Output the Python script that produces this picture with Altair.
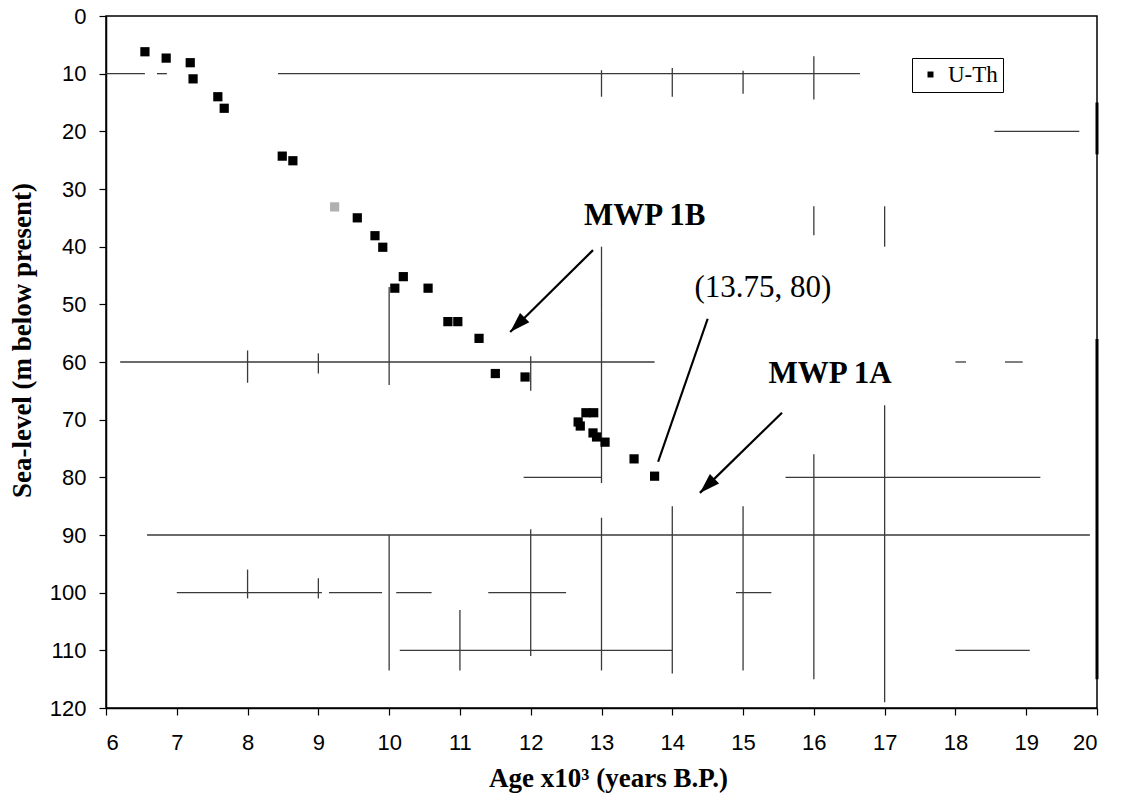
import math
import altair as alt
import pandas as pd

# ---- data ----
age = [6.55, 6.85, 7.19, 7.23, 7.58, 7.67, 8.49, 8.64, 9.55, 9.80, 9.91,
       10.08, 10.20, 10.55, 10.83, 10.97, 11.27, 11.50, 11.92,
       12.67, 12.70, 12.78, 12.89, 12.88, 12.93, 13.05, 13.46, 13.75]
depth = [6.2, 7.3, 8.1, 10.9, 14.0, 16.0, 24.3, 25.1, 35.0, 38.1, 40.1,
         47.2, 45.2, 47.2, 53.0, 53.0, 55.9, 62.0, 62.6,
         70.4, 71.1, 68.8, 68.8, 72.3, 73.0, 73.9, 76.8, 79.8]
faint_age = [9.23]
faint_depth = [33.1]
series_name = "U-Th"

x_ticks = list(range(6, 21))
y_ticks = list(range(0, 121, 10))

# scanned grid fragments (horizontal)
h_y = [10, 10, 10, 20, 60, 60, 60, 80, 80, 90, 100, 100, 100, 100, 100, 110, 110]
h_x1 = [6.0, 6.72, 8.43, 18.55, 6.2, 18.0, 18.7, 11.9, 15.6, 6.58, 7.0, 9.15, 10.1, 11.4, 14.9, 10.15, 18.0]
h_x2 = [6.55, 6.86, 16.65, 19.75, 13.75, 18.15, 18.95, 13.0, 19.2, 19.9, 9.05, 9.9, 10.6, 12.5, 15.4, 14.0, 19.05]
# scanned grid fragments (vertical)
v_x = [8, 8, 9, 9, 10, 10, 11, 12, 12, 13, 13, 13, 13, 14, 14, 15, 15, 16, 16, 16, 17, 17]
v_y1 = [58, 96, 58.5, 97.5, 47, 90, 103, 59, 89, 9.4, 40, 51, 87, 9, 85, 9.5, 85, 7, 33, 76, 33, 67.5]
v_y2 = [63.6, 101, 62, 101, 64, 113.5, 113.5, 65, 111, 14, 51, 81, 113.5, 14, 114, 13.5, 113.5, 14.5, 38, 115, 40, 119]
# heavier fragments on the right frame
thick_x = [20, 20]
thick_y1 = [15, 56]
thick_y2 = [24, 115]

# annotations
bold_text = ["MWP 1B", "MWP 1A"]
bold_x = [13.61, 16.23]
bold_y = [34.7, 62.1]
plain_text = ["(13.75, 80)"]
plain_x = [15.28]
plain_y = [47.2]

arrow_x1 = [12.88, 14.50, 15.55]
arrow_y1 = [40.6, 52.5, 68.8]
arrow_x2 = [11.71, 13.80, 14.39]
arrow_y2 = [54.8, 77.3, 82.7]
arrow_head = [True, False, True]

# ---- layout ----
W, H = 991, 692
XMIN, XMAX, YMIN, YMAX = 6, 20, 0, 120
px_x = W / (XMAX - XMIN)
px_y = H / (YMAX - YMIN)

pts = pd.DataFrame({"age": age, "depth": depth, "series": [series_name] * len(age)})
faint = pd.DataFrame({"age": faint_age, "depth": faint_depth})
hseg = pd.DataFrame({"y": h_y, "x1": h_x1, "x2": h_x2})
vseg = pd.DataFrame({"x": v_x, "y1": v_y1, "y2": v_y2})
tseg = pd.DataFrame({"x": thick_x, "y1": thick_y1, "y2": thick_y2})
btxt = pd.DataFrame({"t": bold_text, "x": bold_x, "y": bold_y})
ptxt = pd.DataFrame({"t": plain_text, "x": plain_x, "y": plain_y})
arr = pd.DataFrame({"x1": arrow_x1, "y1": arrow_y1, "x2": arrow_x2, "y2": arrow_y2})

heads = []
for a, b, c, d, h in zip(arrow_x1, arrow_y1, arrow_x2, arrow_y2, arrow_head):
    if h:
        dx = (c - a) * px_x
        dy = (d - b) * px_y
        ang = math.degrees(math.atan2(dx, -dy)) % 360
        heads.append({"x": c, "y": d, "angle": ang})
heads = pd.DataFrame(heads)

xs = alt.Scale(domain=[XMIN, XMAX], nice=False, zero=False)
ys = alt.Scale(domain=[YMIN, YMAX], reverse=True, nice=False, zero=False)

xaxis = alt.Axis(values=x_ticks, title="Age x10³ (years B.P.)", grid=False,
                 labelPadding=17, titleX=502, titleY=70, titleBaseline="middle",
                 titleAlign="center")
yaxis = alt.Axis(values=y_ticks, title="Sea-level (m below present)", grid=False,
                 labelPadding=13, titleX=-84, titleY=324, titleAngle=-90,
                 titleAlign="center", titleBaseline="middle")


def X(field):
    return alt.X(field, scale=xs, axis=xaxis)


def Y(field):
    return alt.Y(field, scale=ys, axis=yaxis)


grid_color = "#3a3a3a"
h_layer = alt.Chart(hseg).mark_rule(color=grid_color, strokeWidth=1.3).encode(
    x=X("x1:Q"), x2="x2:Q", y=Y("y:Q"))
v_layer = alt.Chart(vseg).mark_rule(color=grid_color, strokeWidth=1.3).encode(
    x=X("x:Q"), y=Y("y1:Q"), y2="y2:Q")
t_layer = alt.Chart(tseg).mark_rule(color="black", strokeWidth=3).encode(
    x=X("x:Q"), y=Y("y1:Q"), y2="y2:Q")

faint_layer = alt.Chart(faint).mark_square(size=85, color="#b0b0b0", opacity=1).encode(
    x=X("age:Q"), y=Y("depth:Q"))

pt_layer = alt.Chart(pts).mark_square(size=85, opacity=1).encode(
    x=X("age:Q"),
    y=Y("depth:Q"),
    color=alt.Color("series:N", scale=alt.Scale(range=["black"]),
                    legend=alt.Legend(title=None, orient="none", legendX=806, legendY=42,
                                      strokeColor="black", fillColor="white", padding=5,
                                      symbolType="square", symbolSize=36, symbolOffset=2,
                                      labelOffset=6, labelFont="Liberation Serif",
                                      labelFontSize=23, labelColor="black",
                                      symbolStrokeWidth=0)))

arr_layer = alt.Chart(arr).mark_rule(color="black", strokeWidth=2.2).encode(
    x=X("x1:Q"), x2="x2:Q", y=Y("y1:Q"), y2="y2:Q")

head_layer = alt.Chart(heads).mark_point(
    shape="M0,0L0.55,1.7L-0.55,1.7Z", size=576, filled=True, color="black", opacity=1
).encode(
    x=X("x:Q"), y=Y("y:Q"),
    angle=alt.Angle("angle:Q", scale=None))

btxt_layer = alt.Chart(btxt).mark_text(font="Liberation Serif", fontWeight="bold",
                                       fontSize=31, color="black", baseline="middle",
                                       align="center").encode(
    x=X("x:Q"), y=Y("y:Q"), text="t:N")
ptxt_layer = alt.Chart(ptxt).mark_text(font="Liberation Serif", fontSize=31, color="black",
                                       baseline="middle", align="center").encode(
    x=X("x:Q"), y=Y("y:Q"), text="t:N")

chart = alt.layer(
    h_layer, v_layer, t_layer, faint_layer, pt_layer, arr_layer, head_layer,
    btxt_layer, ptxt_layer
).properties(
    width=W, height=H,
    autosize=alt.AutoSizeParams(type="none"),
    padding={"left": 106, "top": 16, "right": 29, "bottom": 90},
    background="white",
).configure_view(
    stroke="black", strokeWidth=1.5
).configure_axis(
    domainColor="black", domainWidth=1.5, tickColor="black", tickSize=7, tickWidth=1.2,
    labelFont="Liberation Sans", labelFontSize=22, labelColor="black",
    titleFont="Liberation Serif", titleFontWeight="bold", titleFontSize=27, titleColor="black",
)

chart.save("out.html", embed_options={"renderer": "svg", "actions": False})
